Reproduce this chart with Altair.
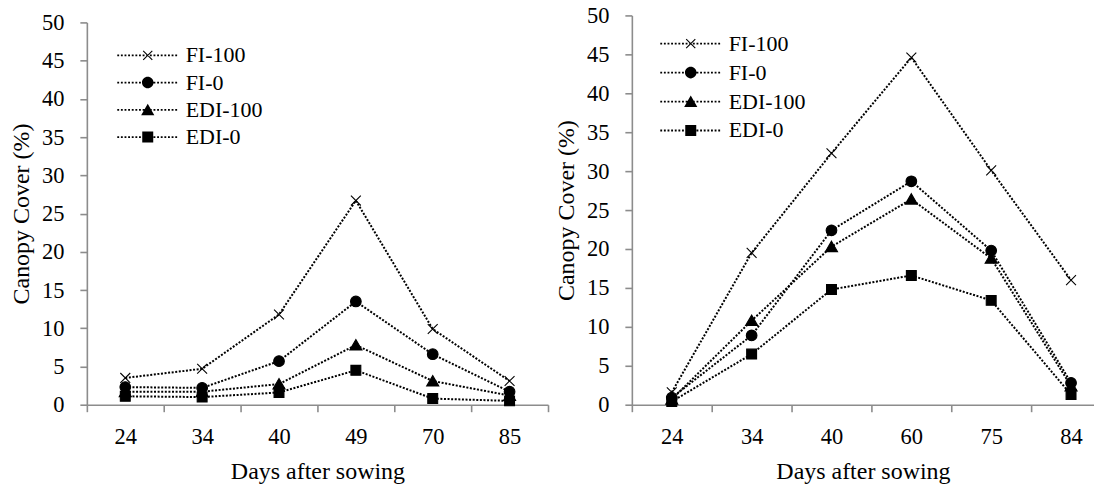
import altair as alt
import pandas as pd

series = ["FI-100", "FI-0", "EDI-100", "EDI-0"]

days_1 = ["24", "34", "40", "49", "70", "85"]
fi100_1 = [3.5, 4.7, 11.8, 26.7, 9.9, 3.1]
fi0_1 = [2.3, 2.2, 5.7, 13.5, 6.6, 1.7]
edi100_1 = [1.7, 1.7, 2.7, 7.8, 3.1, 1.2]
edi0_1 = [1.1, 1.0, 1.6, 4.5, 0.8, 0.5]

days_2 = ["24", "34", "40", "60", "75", "84"]
fi100_2 = [1.6, 19.5, 32.3, 44.6, 30.1, 16.0]
fi0_2 = [0.9, 8.9, 22.4, 28.7, 19.8, 2.8]
edi100_2 = [0.7, 10.8, 20.3, 26.4, 18.8, 2.4]
edi0_2 = [0.4, 6.5, 14.8, 16.6, 13.4, 1.3]

y_ticks = [0, 5, 10, 15, 20, 25, 30, 35, 40, 45, 50]

x_title = "Days after sowing"
y_title = "Canopy Cover (%)"

FONT = "Liberation Serif"
GREY = "#8c8c8c"

# marker shapes (custom symbol paths in the unit box)
marker_paths = [
    "M-0.9,-0.9L0.9,0.9M-0.9,0.9L0.9,-0.9",
    "M-0.97,0A0.97,0.97,0,1,1,0.97,0A0.97,0.97,0,1,1,-0.97,0Z",
    "M0,-1L1.1,0.9L-1.1,0.9Z",
    "M-0.9,-0.9L0.9,-0.9L0.9,0.9L-0.9,0.9Z",
]

# fill-only versions for the legend
t = 0.14
legend_markers = [
    f"M-0.9,{-0.9 + t}L{-0.9 + t},-0.9L0.9,{0.9 - t}L{0.9 - t},0.9Z"
    f"M-0.9,{0.9 - t}L{0.9 - t},-0.9L0.9,{-0.9 + t}L{-0.9 + t},0.9Z",
    "M-1.05,0A1.05,1.05,0,1,1,1.05,0A1.05,1.05,0,1,1,-1.05,0Z",
    "M0,-1.1L1.2,1L-1.2,1Z",
    "M-1,-1L1,-1L1,1L-1,1Z",
]


def dotted(half=5.55, on=0.34, period=0.66, th=0.17):
    parts = []
    x = -half
    while x < half - 0.01:
        x2 = min(x + on, half)
        parts.append(f"M{x:.2f},{-th}L{x2:.2f},{-th}L{x2:.2f},{th}L{x:.2f},{th}Z")
        x += period
    return "".join(parts)


legend_paths = [dotted() + p for p in legend_markers]


def build_df(days, cols):
    rows = []
    for s, vals in zip(series, cols):
        for i, (d, v) in enumerate(zip(days, vals)):
            rows.append({"series": s, "day": d, "idx": i, "value": v})
    return pd.DataFrame(rows)


def panel(days, cols, width, height, y_top, x_max, legend_x, legend_y, row_pad):
    df = build_df(days, cols)
    n = len(days)
    xscale = alt.Scale(domain=[-0.5, x_max], nice=False, zero=False)
    bounds = [i - 0.5 for i in range(n + 1) if i - 0.5 <= x_max + 1e-9]
    label_expr = "[" + ",".join(f"'{d}'" for d in days) + "][datum.value]"

    x_ticks = alt.X(
        "idx:Q",
        scale=xscale,
        axis=alt.Axis(
            orient="bottom",
            values=bounds,
            labels=False,
            title=None,
            tickSize=7,
            grid=False,
        ),
    )
    x_labels = alt.X(
        "idx:Q",
        scale=xscale,
        axis=alt.Axis(
            orient="bottom",
            values=list(range(n)),
            labelExpr=label_expr,
            ticks=False,
            tickSize=0,
            domain=False,
            labelPadding=21,
            labelFont=FONT,
            title=x_title,
            titleFont=FONT,
            titlePadding=11,
            grid=False,
        ),
    )
    x_none = alt.X("idx:Q", scale=xscale, axis=None)
    y = alt.Y(
        "value:Q",
        scale=alt.Scale(domain=[0, 50], nice=False, zero=True,
                        range=[height, y_top]),
        axis=alt.Axis(
            title=y_title,
            values=y_ticks,
            tickSize=7,
            labelPadding=16,
            titlePadding=8,
            labelFont=FONT,
            titleFont=FONT,
        ),
    )
    base = alt.Chart(df)
    lines = base.mark_line(
        color="black", strokeDash=[2, 1.6], strokeWidth=2
    ).encode(x=x_ticks, y=y, detail="series:N", order="idx:Q")
    points = base.mark_point(
        filled=True, fill="black", stroke="black", strokeWidth=1.1,
        size=121, opacity=1,
    ).encode(
        x=x_labels,
        y=y,
        shape=alt.Shape(
            "series:N",
            scale=alt.Scale(domain=series, range=marker_paths),
            legend=None,
        ),
    )
    # legend-only layer: no rows are drawn, the legend comes from the domain
    legend_layer = base.transform_filter("datum.idx < 0").mark_point(
        filled=True, color="black", opacity=0, size=121,
    ).encode(
        x=x_none,
        y=y,
        shape=alt.Shape(
            "series:N",
            scale=alt.Scale(domain=series, range=legend_paths),
            legend=alt.Legend(
                title=None,
                orient="none",
                direction="vertical",
                legendX=legend_x,
                legendY=legend_y,
                padding=0,
                symbolSize=121,
                symbolOpacity=1,
                symbolFillColor="black",
                labelFont=FONT,
                labelFontSize=22,
                labelColor="black",
                labelOffset=27,
                labelLimit=300,
                rowPadding=row_pad,
            ),
        ),
    )
    return (
        alt.layer(lines, points, legend_layer)
        .resolve_scale(shape="independent")
        .resolve_axis(x="independent")
        .properties(width=width, height=height)
    )


left = panel(days_1, [fi100_1, fi0_1, edi100_1, edi0_1], 462, 390, 7, 5.5,
             50, 29, 5.3)
right = panel(days_2, [fi100_2, fi0_2, edi100_2, edi0_2], 463, 390, 0, 5.2875,
              48, 17.3, 7)

chart = (
    alt.hconcat(left, right, spacing=5)
    .properties(padding={"left": 1, "top": -4, "right": 0, "bottom": 0})
    .configure_view(stroke=None)
    .configure_axis(
        labelFont=FONT,
        titleFont=FONT,
        labelFontSize=22.5,
        titleFontSize=24,
        labelColor="black",
        titleColor="black",
        titleFontWeight="normal",
        domainColor=GREY,
        tickColor=GREY,
        domainWidth=1.6,
        tickWidth=1.6,
        grid=False,
    )
)

chart.save("out.html", embed_options={"renderer": "svg", "actions": False})
